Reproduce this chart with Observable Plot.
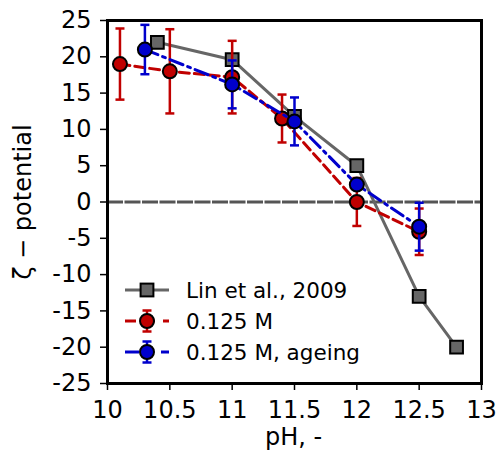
<!DOCTYPE html>
<html><head><meta charset="utf-8">
<script src="https://cdn.jsdelivr.net/npm/d3@7"></script>
<script src="https://cdn.jsdelivr.net/npm/@observablehq/plot@0.6"></script>
<style>body{margin:0;background:#fff;} svg{font-family:"DejaVu Sans",sans-serif;}</style>
</head><body><div id="chart"></div>
<script>
const xTicks = [10, 10.5, 11, 11.5, 12, 12.5, 13];
const yTicks = [-25, -20, -15, -10, -5, 0, 5, 10, 15, 20, 25];

const linPH = [10.4, 11, 11.5, 12, 12.5, 12.8];
const linZeta = [22, 19.6, 11.8, 5, -13, -20];

const m125PH = [10.1, 10.5, 11, 11.4, 12, 12.5];
const m125Zeta = [19.0, 18.0, 17.2, 11.5, 0, -4.1];
const m125Err = [4.9, 5.8, 5.0, 3.3, 3.3, 3.2];

const agePH = [10.3, 11, 11.5, 12, 12.5];
const ageZeta = [21.0, 16.2, 11.1, 2.4, -3.4];
const ageErr = [3.4, 3.3, 3.3, 0, 3.3];

const seriesNames = ["Lin et al., 2009", "0.125 M", "0.125 M, ageing"];
const colors = {lin: "#666666", m125: "#c00000", age: "#0000cc"};

const lin = linPH.map((x, i) => ({x, y: linZeta[i]}));
const m125 = m125PH.map((x, i) => ({x, y: m125Zeta[i], e: m125Err[i]}));
const age = agePH.map((x, i) => ({x, y: ageZeta[i], e: ageErr[i]}));

const cap = {draw(ctx) { ctx.moveTo(-4.5, 0); ctx.lineTo(4.5, 0); }};

function errMarks(data, color) {
  const d = data.filter(p => p.e > 0);
  return [
    Plot.ruleX(d, {x: "x", y1: p => p.y - p.e, y2: p => p.y + p.e, stroke: color, strokeWidth: 2.5}),
    Plot.dot(d, {x: "x", y: p => p.y - p.e, symbol: cap, stroke: color, strokeWidth: 2.5, fill: "none"}),
    Plot.dot(d, {x: "x", y: p => p.y + p.e, symbol: cap, stroke: color, strokeWidth: 2.5, fill: "none"})
  ];
}

const chart = Plot.plot({
  width: 496, height: 458,
  marginLeft: 107, marginRight: 15, marginTop: 20, marginBottom: 75,
  style: {fontFamily: "DejaVu Sans, sans-serif", fontSize: "24px", color: "#000", background: "#fff"},
  x: {domain: [10, 13], label: null},
  y: {domain: [-25, 25], label: null},
  marks: [
    Plot.ruleY([0], {stroke: "#555", strokeWidth: 3, strokeDasharray: "16,1.5"}),
    Plot.line(lin, {x: "x", y: "y", stroke: colors.lin, strokeWidth: 3}),
    Plot.dot(lin, {x: "x", y: "y", symbol: "square", r: 7.2, fill: colors.lin, stroke: "#000", strokeWidth: 2}),
    Plot.line(m125, {x: "x", y: "y", stroke: colors.m125, strokeWidth: 3, strokeDasharray: "10,5"}),
    ...errMarks(m125, colors.m125),
    Plot.dot(m125, {x: "x", y: "y", r: 7, fill: colors.m125, stroke: "#000", strokeWidth: 2}),
    Plot.line(age, {x: "x", y: "y", stroke: colors.age, strokeWidth: 3, strokeDasharray: "14,5,3,5"}),
    ...errMarks(age, colors.age),
    Plot.dot(age, {x: "x", y: "y", r: 7, fill: colors.age, stroke: "#000", strokeWidth: 2}),
    Plot.frame({stroke: "#000", strokeWidth: 3}),
    Plot.axisX({ticks: xTicks, tickFormat: d => String(d), tickSize: 7, tickPadding: 10, strokeWidth: 1.5, fontSize: 24, label: null}),
    Plot.axisY({ticks: yTicks, tickFormat: d => String(d), tickSize: 7, tickPadding: 9, strokeWidth: 1.5, fontSize: 24, label: null})
  ]
});
document.getElementById("chart").appendChild(chart);

const svg = d3.select(chart.tagName.toLowerCase() === "svg" ? chart : chart.querySelector("svg"));
// axis titles
svg.append("text").attr("x", 293.5).attr("y", 445).attr("text-anchor", "middle")
  .attr("font-size", 24).attr("fill", "#000").text("pH, -");
svg.append("text").attr("transform", "translate(31,202) rotate(-90)").attr("text-anchor", "middle")
  .attr("font-size", 24).attr("fill", "#000").text("ζ − potential");

// legend
const lg = svg.append("g").attr("text-anchor", "start");
const rows = [
  {y: 290, color: colors.lin, dash: null, marker: "square", err: false},
  {y: 321, color: colors.m125, dash: "11,8", marker: "circle", err: true},
  {y: 352, color: colors.age, dash: "14,22", marker: "circle", err: true}
];
rows.forEach((r, i) => {
  const g = lg.append("g");
  g.append("line").attr("x1", 125).attr("x2", 169).attr("y1", r.y).attr("y2", r.y)
    .attr("stroke", r.color).attr("stroke-width", 3).attr("stroke-dasharray", r.dash);
  if (r.err) {
    g.append("line").attr("x1", 147).attr("x2", 147).attr("y1", r.y - 10.5).attr("y2", r.y + 10.5).attr("stroke", r.color).attr("stroke-width", 2.5);
    [-10.5, 10.5].forEach(o => g.append("line").attr("x1", 142.5).attr("x2", 151.5).attr("y1", r.y + o).attr("y2", r.y + o).attr("stroke", r.color).attr("stroke-width", 2.5));
  }
  if (r.marker === "square") {
    g.append("rect").attr("x", 147 - 6.4).attr("y", r.y - 6.4).attr("width", 12.8).attr("height", 12.8)
      .attr("fill", r.color).attr("stroke", "#000").attr("stroke-width", 2);
  } else {
    g.append("circle").attr("cx", 147).attr("cy", r.y).attr("r", 7).attr("fill", r.color).attr("stroke", "#000").attr("stroke-width", 2);
  }
  g.append("text").attr("x", 186).attr("y", r.y).attr("dy", "0.36em").attr("text-anchor", "start")
    .attr("font-size", 21.5).attr("fill", "#000").text(seriesNames[i]);
});
</script></body></html>
